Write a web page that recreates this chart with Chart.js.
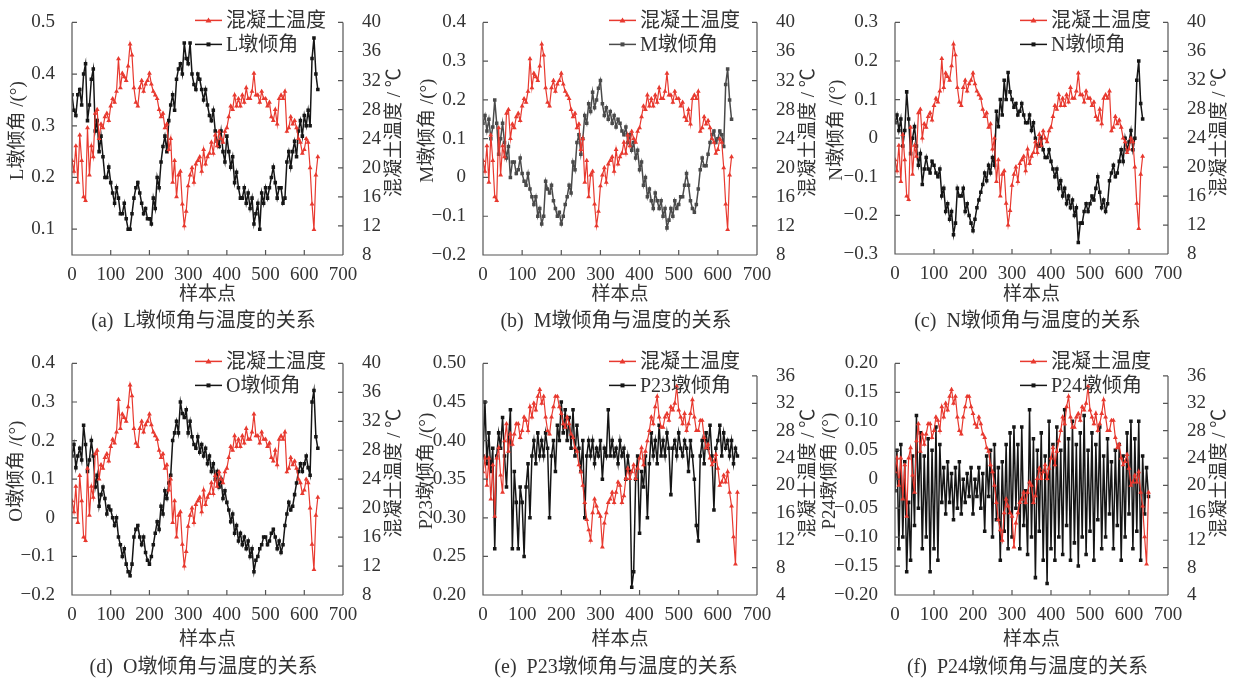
<!DOCTYPE html>
<html>
<head>
<meta charset="utf-8">
<script src="https://cdn.jsdelivr.net/npm/chart.js@4.4.0/dist/chart.umd.min.js"></script>
<style>
  body { margin: 0; background: #fff; width: 1233px; height: 683px; overflow: hidden; position: relative; }
  canvas { position: absolute; }
</style>
</head>
<body>
<canvas id="ca" width="410" height="340" style="left:0;top:0"></canvas>
<canvas id="cb" width="410" height="340" style="left:410px;top:0"></canvas>
<canvas id="cc" width="413" height="340" style="left:820px;top:0"></canvas>
<canvas id="cd" width="410" height="342" style="left:0;top:341px"></canvas>
<canvas id="ce" width="410" height="342" style="left:410px;top:341px"></canvas>
<canvas id="cf" width="413" height="342" style="left:820px;top:341px"></canvas>
<script>
// 混凝土温度 (a)-(d)，样本点 0,5,10,...,635
const tempAD = [21, 19.5, 23, 18, 24.5, 21, 16, 15.5, 25.5, 19,
  23, 21.5, 27.5, 28, 24, 26, 25.5, 27, 27.5, 26.5,
  28.5, 29.5, 29, 30.5, 35, 31, 33, 32.5, 32, 34,
  37, 35.5, 31, 29, 28.5, 31, 32, 30.5, 31.5, 32,
  33, 31.5, 30.5, 30, 29.5, 28, 27, 27.5, 25.5, 26,
  22.5, 24, 18, 21, 16, 19, 19.5, 15, 12, 14,
  17.5, 19, 20, 18, 20.5, 21, 21.5, 19.5, 22.5, 20.5,
  21.5, 22, 23.5, 22, 24.5, 23, 25, 24, 23.5, 25,
  25.5, 27, 28.5, 28, 30, 28.5, 29.5, 28.5, 30, 29,
  31, 29.5, 29.5, 30.5, 33, 30, 30, 29, 30.5, 29.5,
  29.5, 28.5, 29, 27, 26.5, 28, 26, 29.5, 30, 29.5,
  30.5, 25, 25.5, 27, 26, 26.5, 25.5, 24, 23.5, 22,
  22.5, 24, 23.5, 20, 15, 11.5, 19, 21.5];

// 墩倾角 (a)-(d)，样本点 0,5,10,...,635
const tiltL = [0.36, 0.33, 0.32, 0.36, 0.37, 0.34, 0.40, 0.42, 0.31, 0.34,
  0.39, 0.41, 0.29, 0.31, 0.25, 0.28, 0.24, 0.20, 0.20, 0.22,
  0.19, 0.17, 0.15, 0.18, 0.16, 0.13, 0.13, 0.15, 0.12, 0.10,
  0.10, 0.13, 0.16, 0.18, 0.19, 0.17, 0.15, 0.13, 0.14, 0.12,
  0.12, 0.11, 0.16, 0.14, 0.20, 0.18, 0.23, 0.26, 0.28, 0.25,
  0.31, 0.34, 0.36, 0.33, 0.39, 0.41, 0.42, 0.40, 0.46, 0.43,
  0.42, 0.46, 0.40, 0.38, 0.37, 0.40, 0.39, 0.37, 0.35, 0.37,
  0.34, 0.32, 0.31, 0.33, 0.29, 0.27, 0.26, 0.29, 0.25, 0.23,
  0.28, 0.25, 0.22, 0.24, 0.19, 0.21, 0.18, 0.16, 0.16, 0.18,
  0.15, 0.17, 0.14, 0.16, 0.11, 0.13, 0.15, 0.10, 0.17, 0.15,
  0.18, 0.16, 0.18, 0.20, 0.22, 0.19, 0.16, 0.18, 0.18, 0.15,
  0.16, 0.23, 0.25, 0.22, 0.25, 0.27, 0.24, 0.29, 0.31, 0.28,
  0.32, 0.30, 0.33, 0.30, 0.43, 0.47, 0.40, 0.37];
const tiltM = [0.14, 0.16, 0.12, 0.15, 0.10, 0.13, 0.20, 0.14, 0.06, 0.10,
  0.14, 0.09, 0.05, 0.08, 0.00, 0.04, 0.04, 0.01, 0.02, 0.05,
  0.01, -0.01, -0.02, 0.01, -0.03, -0.05, -0.07, -0.05, -0.10, -0.08,
  -0.12, -0.10, -0.01, -0.03, -0.04, -0.02, -0.06, -0.08, -0.10, -0.09,
  -0.12, -0.10, -0.07, -0.05, -0.02, -0.04, 0.04, 0.02, 0.09, 0.11,
  0.06, 0.10, 0.16, 0.14, 0.19, 0.17, 0.22, 0.18, 0.20, 0.23,
  0.25, 0.19, 0.16, 0.18, 0.15, 0.17, 0.14, 0.16, 0.13, 0.15,
  0.14, 0.12, 0.11, 0.13, 0.09, 0.11, 0.07, 0.09, 0.05, 0.07,
  0.02, 0.04, -0.02, 0.00, -0.05, -0.03, -0.06, -0.08, -0.04, -0.06,
  -0.08, -0.06, -0.10, -0.08, -0.13, -0.11, -0.08, -0.10, -0.06, -0.08,
  -0.07, -0.05, -0.05, -0.02, 0.01, -0.02, -0.06, -0.08, -0.09, -0.07,
  -0.03, 0.02, 0.05, 0.03, 0.03, 0.06, 0.09, 0.11, 0.12, 0.09,
  0.10, 0.12, 0.11, 0.08, 0.24, 0.28, 0.20, 0.15];
const tiltN = [0.04, 0.06, 0.02, 0.05, -0.02, 0.02, 0.12, 0.05, -0.04, 0.00,
  0.03, -0.02, -0.07, -0.04, -0.12, -0.08, -0.05, -0.08, -0.09, -0.06,
  -0.07, -0.09, -0.10, -0.08, -0.15, -0.13, -0.19, -0.17, -0.21, -0.19,
  -0.25, -0.22, -0.13, -0.15, -0.15, -0.13, -0.19, -0.17, -0.20, -0.22,
  -0.24, -0.21, -0.18, -0.16, -0.14, -0.12, -0.09, -0.11, -0.07, -0.09,
  -0.05, -0.07, 0.07, 0.03, 0.10, 0.06, 0.15, 0.10, 0.17, 0.12,
  0.10, 0.08, 0.09, 0.06, 0.07, 0.09, 0.06, 0.04, 0.04, 0.06,
  0.02, 0.04, 0.00, -0.02, -0.02, 0.00, -0.03, -0.05, -0.05, -0.03,
  -0.06, -0.08, -0.10, -0.08, -0.13, -0.11, -0.15, -0.13, -0.17, -0.15,
  -0.18, -0.16, -0.20, -0.18, -0.27, -0.22, -0.22, -0.19, -0.17, -0.19,
  -0.17, -0.15, -0.16, -0.13, -0.10, -0.14, -0.18, -0.16, -0.19, -0.17,
  -0.11, -0.09, -0.07, -0.10, -0.09, -0.06, -0.03, -0.06, 0.00, -0.03,
  -0.01, 0.02, -0.03, 0.00, 0.15, 0.20, 0.09, 0.05];
const tiltO = [0.16, 0.19, 0.13, 0.16, 0.18, 0.15, 0.24, 0.19, 0.12, 0.15,
  0.20, 0.16, 0.08, 0.11, 0.03, 0.06, 0.08, 0.05, 0.01, 0.03,
  0.02, 0.00, -0.02, 0.00, -0.05, -0.07, -0.10, -0.08, -0.12, -0.14,
  -0.15, -0.12, -0.05, -0.03, -0.02, -0.05, -0.07, -0.05, -0.09, -0.11,
  -0.12, -0.10, -0.07, -0.04, -0.01, -0.03, 0.03, 0.01, 0.07, 0.05,
  0.09, 0.11, 0.20, 0.22, 0.25, 0.22, 0.30, 0.27, 0.26, 0.28,
  0.22, 0.25, 0.21, 0.19, 0.18, 0.21, 0.17, 0.19, 0.16, 0.18,
  0.14, 0.16, 0.12, 0.14, 0.10, 0.12, 0.08, 0.10, 0.05, 0.07,
  0.04, 0.02, -0.01, 0.01, -0.04, -0.02, -0.06, -0.04, -0.07, -0.05,
  -0.08, -0.06, -0.10, -0.08, -0.14, -0.11, -0.10, -0.08, -0.07, -0.05,
  -0.05, -0.07, -0.06, -0.04, -0.03, -0.05, -0.08, -0.06, -0.09, -0.07,
  -0.02, 0.01, 0.04, 0.02, 0.03, 0.06, 0.09, 0.12, 0.14, 0.12,
  0.14, 0.16, 0.13, 0.11, 0.30, 0.33, 0.21, 0.18];

// 混凝土温度 (e)-(f)，样本点 0,5,...,650
const tempEF = [22, 24, 20, 24, 18, 23, 15.5, 24, 25.5, 21.5,
  19, 26.5, 29, 25, 27.5, 26, 27.5, 29, 29, 27,
  28, 30, 29.5, 28, 31.5, 30, 32, 31, 33, 34,
  32, 33, 30, 28, 27.5, 30, 31.5, 33, 33, 31.5,
  30.5, 29, 28.5, 30, 29, 27.5, 27, 25.5, 25, 23,
  22, 20, 17.5, 15, 13.5, 12, 16, 18, 17, 16,
  15.5, 11, 14.5, 16, 17.5, 18, 19, 17.5, 19, 20.5,
  20, 17.5, 18.5, 21, 22.5, 21, 22, 23, 21, 22.5,
  24, 25.5, 23, 25, 26.5, 28, 30, 29, 31.5, 33,
  30, 28.5, 28.5, 30, 30.5, 29.5, 31.5, 31, 32, 34.5,
  31, 30, 29, 30.5, 28, 29, 30.5, 32.5, 30, 28,
  28, 29.5, 29.5, 27, 25.5, 26, 24, 23, 23.5, 24.5,
  22.5, 20, 20.5, 21.5, 20.5, 22, 19, 17, 12.5, 8.5,
  19];

// 墩倾角 (e)-(f)，样本点 0,5,...,650
const tiltP23 = [0.38, 0.45, 0.37, 0.41, 0.36, 0.39, 0.26, 0.38, 0.41, 0.39,
  0.43, 0.38, 0.34, 0.40, 0.44, 0.26, 0.36, 0.32, 0.26, 0.34,
  0.32, 0.25, 0.34, 0.37, 0.30, 0.38, 0.40, 0.37, 0.41, 0.38,
  0.40, 0.38, 0.41, 0.39, 0.30, 0.38, 0.40, 0.36, 0.42, 0.40,
  0.45, 0.41, 0.44, 0.40, 0.43, 0.39, 0.44, 0.38, 0.42, 0.39,
  0.36, 0.40, 0.30, 0.38, 0.40, 0.38, 0.40, 0.37, 0.39, 0.38,
  0.40, 0.35, 0.39, 0.38, 0.44, 0.38, 0.40, 0.38, 0.39, 0.37,
  0.40, 0.38, 0.39, 0.35, 0.38, 0.36, 0.21, 0.23, 0.35, 0.38,
  0.28, 0.36, 0.34, 0.38, 0.30, 0.37, 0.41, 0.38, 0.40, 0.37,
  0.42, 0.38, 0.40, 0.38, 0.41, 0.39, 0.33, 0.39, 0.40, 0.38,
  0.41, 0.39, 0.38, 0.40, 0.39, 0.36, 0.40, 0.38, 0.35, 0.29,
  0.27, 0.38, 0.40, 0.37, 0.41, 0.39, 0.42, 0.38, 0.31, 0.39,
  0.40, 0.42, 0.38, 0.41, 0.39, 0.40, 0.38, 0.40, 0.37, 0.39,
  0.38];
const tiltP24 = [-0.02, 0.05, -0.12, 0.06, -0.10, 0.03, -0.16, -0.04, -0.14, 0.04,
  -0.08, 0.11, -0.05, 0.08, -0.12, 0.04, -0.10, 0.07, -0.16, 0.05,
  -0.12, 0.09, -0.14, 0.06, -0.04, 0.02, -0.06, 0.03, -0.04, 0.01,
  -0.07, 0.02, -0.05, 0.03, -0.06, 0.00, -0.04, 0.01, -0.03, 0.02,
  -0.06, 0.00, -0.03, 0.02, -0.05, 0.01, -0.09, 0.04, -0.03, 0.05,
  -0.10, 0.06, -0.07, 0.02, -0.14, 0.03, -0.09, 0.06, -0.12, 0.08,
  -0.10, 0.09, -0.05, 0.06, -0.12, 0.09, -0.08, -0.02, -0.13, 0.12,
  -0.10, 0.07, -0.17, 0.05, -0.09, 0.08, -0.14, 0.04, -0.18, 0.10,
  -0.12, 0.06, -0.14, 0.09, -0.10, 0.05, -0.13, 0.12, -0.08, 0.07,
  -0.14, 0.10, -0.11, 0.06, -0.15, 0.08, -0.10, 0.11, -0.13, 0.05,
  -0.09, 0.08, -0.14, 0.06, -0.07, 0.09, -0.12, 0.04, -0.10, 0.07,
  -0.06, 0.03, -0.12, 0.05, -0.08, 0.06, -0.14, 0.04, -0.10, 0.08,
  -0.06, 0.10, -0.12, 0.07, -0.09, 0.10, -0.14, 0.04, -0.06, 0.02,
  -0.03];

// 刻度
const xTicks = [0, 100, 200, 300, 400, 500, 600, 700];
const ticksL = [0.1, 0.2, 0.3, 0.4, 0.5];
const ticksM = [-0.2, -0.1, 0, 0.1, 0.2, 0.3, 0.4];
const ticksN = [-0.3, -0.2, -0.1, 0, 0.1, 0.2, 0.3];
const ticksO = [-0.2, -0.1, 0, 0.1, 0.2, 0.3, 0.4];
const ticksP23 = [0.20, 0.25, 0.30, 0.35, 0.40, 0.45, 0.50];
const ticksP24 = [-0.20, -0.15, -0.10, -0.05, 0, 0.05, 0.10, 0.15, 0.20];
const tempTicksAD = [8, 12, 16, 20, 24, 28, 32, 36, 40];
const tempTicksEF = [4, 8, 12, 16, 20, 24, 28, 32, 36];

// 样本点编号
const idx = (n, step) => Array.from({ length: n }, (_, i) => i * step);
const samplesAD = idx(tempAD.length, 5);
const samplesEF = idx(tempEF.length, 5);

const RED = '#e8392f';
const TEXT = '#333';
const AXIS = '#555';
const SERIF = '"Liberation Serif", "Noto Sans CJK SC", serif';

const panels = [
  { id: 'ca', tag: '(a)', name: 'L', W: 410, H: 340, L: 72, R: 343, T: 19, B: 255, tilt: tiltL, temp: tempAD, xs: samplesAD,
    yMin: 0.05, yMax: 0.5, yTicks: ticksL, dec: 1, rMin: 8, rMax: 40, rTicks: tempTicksAD, color: '#151515', lt: 54, xt: 40, cap: 67 },
  { id: 'cb', tag: '(b)', name: 'M', W: 410, H: 340, L: 73, R: 347, T: 19, B: 255, tilt: tiltM, temp: tempAD, xs: samplesAD,
    yMin: -0.2, yMax: 0.4, yTicks: ticksM, dec: 1, rMin: 8, rMax: 40, rTicks: tempTicksAD, color: '#4a4a4a', lt: 55, xt: 40, cap: 67 },
  { id: 'cc', tag: '(c)', name: 'N', W: 413, H: 340, L: 75, R: 348, T: 19, B: 254, tilt: tiltN, temp: tempAD, xs: samplesAD,
    yMin: -0.3, yMax: 0.3, yTicks: ticksN, dec: 1, rMin: 8, rMax: 40, rTicks: tempTicksAD, color: '#151515', lt: 58, xt: 41, cap: 68 },
  { id: 'cd', tag: '(d)', name: 'O', W: 410, H: 342, L: 72, R: 343, T: 20, B: 254, tilt: tiltO, temp: tempAD, xs: samplesAD,
    yMin: -0.2, yMax: 0.4, yTicks: ticksO, dec: 1, rMin: 8, rMax: 40, rTicks: tempTicksAD, color: '#151515', lt: 55, xt: 45, cap: 73 },
  { id: 'ce', tag: '(e)', name: 'P23', W: 410, H: 342, L: 73, R: 347, T: 20, B: 254, tilt: tiltP23, temp: tempEF, xs: samplesEF,
    yMin: 0.2, yMax: 0.5, yTicks: ticksP23, dec: 2, rMin: 4, rMax: 37.83, rTicks: tempTicksEF, color: '#151515', lt: 56, xt: 45, cap: 73 },
  { id: 'cf', tag: '(f)', name: 'P24', W: 413, H: 342, L: 75, R: 348, T: 20, B: 254, tilt: tiltP24, temp: tempEF, xs: samplesEF,
    yMin: -0.2, yMax: 0.2, yTicks: ticksP24, dec: 2, rMin: 4, rMax: 37.83, rTicks: tempTicksEF, color: '#151515', lt: 65, xt: 45, cap: 73 }
];

const fmt = dec => v => v === 0 ? '0' : (v < 0 ? '\u2212' : '') + Math.abs(v).toFixed(dec);
const setTicks = arr => s => { s.ticks = arr.map(v => ({ value: v })); };

// 轴线、内向刻度、轴标题、图例、图名
function decor(p) {
  return {
    id: 'decor',
    afterDraw(chart) {
      const { ctx, chartArea: a, scales } = chart;
      ctx.save();
      ctx.strokeStyle = AXIS;
      ctx.lineWidth = 1.2;
      ctx.beginPath();
      ctx.moveTo(a.left, a.top); ctx.lineTo(a.left, a.bottom); ctx.lineTo(a.right, a.bottom);
      const rTop = scales.y1.getPixelForValue(p.rTicks[p.rTicks.length - 1]);
      ctx.moveTo(a.right, rTop); ctx.lineTo(a.right, a.bottom);
      p.yTicks.forEach(v => { const py = scales.y.getPixelForValue(v); ctx.moveTo(a.left, py); ctx.lineTo(a.left + 5, py); });
      p.rTicks.forEach(v => { const py = scales.y1.getPixelForValue(v); ctx.moveTo(a.right - 5, py); ctx.lineTo(a.right, py); });
      xTicks.forEach(v => { const px = scales.x.getPixelForValue(v); ctx.moveTo(px, a.bottom); ctx.lineTo(px, a.bottom - 5); });
      ctx.stroke();

      ctx.fillStyle = TEXT;
      ctx.textAlign = 'center';
      ctx.textBaseline = 'middle';
      ctx.font = '19px ' + SERIF;
      const cy = (a.top + a.bottom) / 2 - 8;
      ctx.save();
      ctx.translate(a.left - p.lt, cy);
      ctx.rotate(-Math.PI / 2);
      ctx.fillText(p.name + '墩倾角 /(°)', 0, 0);
      ctx.restore();
      ctx.save();
      ctx.translate(a.right + 52, cy + 2);
      ctx.rotate(-Math.PI / 2);
      ctx.fillText('混凝土温度 / ℃', 0, 0);
      ctx.restore();

      const cx = (a.left + a.right) / 2;
      ctx.fillText('样本点', cx, a.bottom + p.xt);
      ctx.font = '20px ' + SERIF;
      ctx.fillText(p.tag + '  ' + p.name + '墩倾角与温度的关系', cx - 4, a.bottom + p.cap);

      // 图例
      const lx = a.right - 148;
      const rows = [
        { y: a.top - 2, color: RED, text: '混凝土温度', tri: true },
        { y: a.top + 22, color: p.color, text: p.name + '墩倾角', tri: false }
      ];
      ctx.textAlign = 'left';
      rows.forEach(r => {
        ctx.strokeStyle = r.color;
        ctx.fillStyle = r.color;
        ctx.lineWidth = 1.5;
        ctx.beginPath(); ctx.moveTo(lx, r.y); ctx.lineTo(lx + 27, r.y); ctx.stroke();
        const mx = lx + 13.5;
        ctx.beginPath();
        if (r.tri) { ctx.moveTo(mx, r.y - 3); ctx.lineTo(mx + 3, r.y + 2); ctx.lineTo(mx - 3, r.y + 2); ctx.closePath(); }
        else { ctx.rect(mx - 2, r.y - 2, 4, 4); }
        ctx.fill();
        ctx.fillStyle = TEXT;
        ctx.font = '20px ' + SERIF;
        ctx.fillText(r.text, lx + 31, r.y + 1);
      });
      ctx.restore();
    }
  };
}

const tickFont = { family: SERIF, size: 19 };

panels.forEach(p => {
  new Chart(document.getElementById(p.id), {
    type: 'line',
    data: {
      datasets: [
        { label: '混凝土温度', yAxisID: 'y1', data: p.temp.map((v, i) => ({ x: p.xs[i], y: v })),
          borderColor: RED, backgroundColor: RED, borderWidth: 1.2, pointStyle: 'triangle', pointRadius: 2.8, pointBorderWidth: 0 },
        { label: p.name + '墩倾角', yAxisID: 'y', data: p.tilt.map((v, i) => ({ x: p.xs[i], y: v })),
          borderColor: p.color, backgroundColor: p.color, borderWidth: 1.5, pointStyle: 'rect', pointRadius: 2.5, pointBorderWidth: 0 }
      ]
    },
    options: {
      responsive: false,
      animation: false,
      layout: { padding: { top: p.T, left: 0, right: 0, bottom: 0 } },
      plugins: { legend: { display: false }, tooltip: { enabled: false } },
      scales: {
        x: { type: 'linear', min: 0, max: 700, afterBuildTicks: setTicks(xTicks), afterFit: s => { s.height = p.H - p.B; },
          grid: { display: false }, border: { display: false },
          ticks: { font: tickFont, color: TEXT, padding: 1, maxRotation: 0, autoSkip: false, callback: v => String(v) } },
        y: { position: 'left', min: p.yMin, max: p.yMax, afterBuildTicks: setTicks(p.yTicks), afterFit: s => { s.width = p.L; },
          grid: { display: false }, border: { display: false },
          ticks: { font: tickFont, color: TEXT, padding: 9, callback: fmt(p.dec) } },
        y1: { position: 'right', min: p.rMin, max: p.rMax, afterBuildTicks: setTicks(p.rTicks), afterFit: s => { s.width = p.W - p.R; },
          grid: { display: false }, border: { display: false },
          ticks: { font: tickFont, color: TEXT, padding: 11, callback: v => String(v) } }
      }
    },
    plugins: [decor(p)]
  });
});
</script>
</body>
</html>
